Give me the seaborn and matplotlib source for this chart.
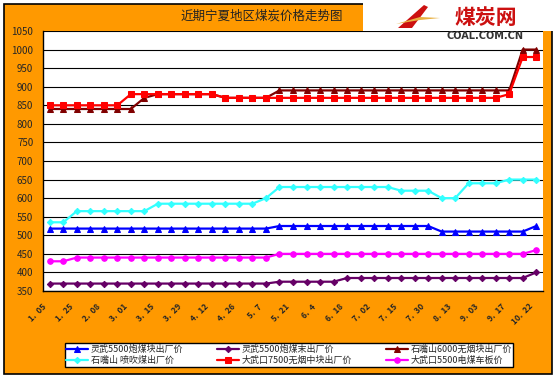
import numpy as np
import matplotlib
matplotlib.use("Agg")
import matplotlib.pyplot as plt
import matplotlib.transforms as mtransforms
from matplotlib.patches import Rectangle, Polygon
import seaborn as sns

# ==========================================
# Data
# ==========================================

title = "近期宁夏地区煤炭价格走势图"

date_labels = ["1.  05", "1.  25", "2.  08", "3.  01", "3.  15", "3.  29", "4.  12",
               "4.  26", "5.  7", "5.  21", "6.  4", "6.  18", "7.  02", "7.  15",
               "7.  30", "8.  13", "9.  03", "9.  17", "10.  22"]

lingwu_kuai = [518, 518, 518, 518, 518, 518, 518, 518, 518, 518, 518, 518, 518,
               518, 518, 518, 518, 525, 525, 525, 525, 525, 525, 525, 525, 525,
               525, 525, 525, 510, 510, 510, 510, 510, 510, 510, 525]

szs_penchui = [535, 535, 565, 565, 565, 565, 565, 565, 585, 585, 585, 585, 585,
               585, 585, 585, 600, 630, 630, 630, 630, 630, 630, 630, 630, 630,
               620, 620, 620, 600, 600, 640, 640, 640, 650, 650, 650]

lingwu_mo = [370, 370, 370, 370, 370, 370, 370, 370, 370, 370, 370, 370, 370,
             370, 370, 370, 370, 375, 375, 375, 375, 375, 385, 385, 385, 385,
             385, 385, 385, 385, 385, 385, 385, 385, 385, 385, 400]

dwk_7500 = [850, 850, 850, 850, 850, 850, 880, 880, 880, 880, 880, 880, 880,
            870, 870, 870, 870, 870, 870, 870, 870, 870, 870, 870, 870, 870,
            870, 870, 870, 870, 870, 870, 870, 870, 880, 980, 980]

szs_6000 = [840, 840, 840, 840, 840, 840, 840, 870, 880, 880, 880, 880, 880,
            870, 870, 870, 870, 890, 890, 890, 890, 890, 890, 890, 890, 890,
            890, 890, 890, 890, 890, 890, 890, 890, 890, 1000, 1000]

dwk_5500 = [430, 430, 440, 440, 440, 440, 440, 440, 440, 440, 440, 440, 440,
            440, 440, 440, 440, 450, 450, 450, 450, 450, 450, 450, 450, 450,
            450, 450, 450, 450, 450, 450, 450, 450, 450, 450, 460]

# legend is filled column by column
series = [
    ("灵武5500炮煤块出厂价", lingwu_kuai, "#0000FF", "^", 4),
    ("石嘴山 喷吹煤出厂价", szs_penchui, "#33FFFF", "D", 3),
    ("灵武5500炮煤末出厂价", lingwu_mo, "#660066", "D", 3),
    ("大武口7500无烟中块出厂价", dwk_7500, "#FF0000", "s", 6),
    ("石嘴山6000无烟块出厂价", szs_6000, "#800000", "^", 5),
    ("大武口5500电煤车板价", dwk_5500, "#FF00FF", "o", 4),
]

# ==========================================
# Figure
# ==========================================

sns.set_style("white")
plt.rcParams["font.family"] = ["Noto Sans CJK SC", "DejaVu Sans"]

W, H = 555, 377
fig = plt.figure(figsize=(W / 100, H / 100), dpi=100)
fig.patch.set_facecolor("white")


def fx(px):
    return px / W


def fy(py):
    return 1 - py / H


# orange background with black frame
fig.add_artist(Rectangle((fx(4), fy(374)), fx(552) - fx(4), fy(4) - fy(374),
                         transform=fig.transFigure, facecolor="#FF9900",
                         edgecolor="black", lw=1.2, zorder=-2))
# white logo box
fig.add_artist(Rectangle((fx(363), fy(31)), fx(555) - fx(363), fy(0) - fy(31),
                         transform=fig.transFigure, facecolor="white",
                         edgecolor="none", zorder=-1))

ax = fig.add_axes([fx(43), fy(291), fx(543) - fx(43), (291 - 31) / H])
ax.set_facecolor("white")

x = np.arange(len(lingwu_kuai))
for name, vals, color, marker, z in series:
    sns.lineplot(x=x, y=vals, ax=ax, color=color, marker=marker,
                 markersize=4 if marker != "D" else 3.2,
                 markeredgecolor=color, lw=1.6, label=name, zorder=z)

ax.set_xlim(-0.5, len(x) - 0.5)
ax.set_ylim(350, 1050)
ax.set_yticks(range(350, 1051, 50))
ax.yaxis.grid(True, color="black", lw=0.8)
ax.xaxis.grid(False)
ax.tick_params(axis="y", length=0, pad=7, labelsize=7)
ax.set_xlabel("")
ax.set_ylabel("")

ax.set_xticks(range(0, len(x), 2))
ax.set_xticklabels(date_labels, rotation=45, ha="right",
                   rotation_mode="anchor", fontsize=6, fontweight="bold")
ax.set_xticks(np.arange(-0.5, len(x), 1), minor=True)
ax.tick_params(axis="x", which="major", length=0, pad=8)
ax.tick_params(axis="x", which="minor", length=3, width=0.8,
               color="black", direction="out")
shift = mtransforms.ScaledTranslation(-0.08, 0, fig.dpi_scale_trans)
for lbl in ax.get_xticklabels():
    lbl.set_transform(lbl.get_transform() + shift)

for side in ["top", "right"]:
    ax.spines[side].set_visible(False)
for side in ["left", "bottom"]:
    ax.spines[side].set_color("black")
    ax.spines[side].set_linewidth(1)

# legend
handles, labels = ax.get_legend_handles_labels()
ax.get_legend().remove()
leg = fig.legend(handles, labels, ncol=3, loc="center",
                 bbox_to_anchor=(fx(60), fy(370), fx(518) - fx(60), (370 - 340) / H),
                 mode="expand", frameon=True, fancybox=False, edgecolor="black",
                 framealpha=1, fontsize=6.5, handlelength=2.4, borderpad=0.2,
                 labelspacing=0.2, columnspacing=1.0, handletextpad=0.3)
leg.get_frame().set_linewidth(1)

# title
fig.text(fx(262), fy(16), title, ha="center", va="center", fontsize=9,
         color="#222222")

# logo
fig.add_artist(Polygon([(fx(398), fy(28)), (fx(424), fy(5)), (fx(428), fy(7)),
                        (fx(412), fy(28))], closed=True, transform=fig.transFigure,
                       facecolor="#CC1010", edgecolor="none", zorder=3))
fig.add_artist(Polygon([(fx(396), fy(24)), (fx(420), fy(17)), (fx(440), fy(18)),
                        (fx(420), fy(20))], closed=True, transform=fig.transFigure,
                       facecolor="#E8B040", edgecolor="none", zorder=3))
fig.text(fx(486), fy(17), "煤炭网", ha="center", va="center", fontsize=15,
         fontweight="bold", color="#CC1010", zorder=4)
fig.text(fx(485), fy(36), "COAL.COM.CN", ha="center", va="center", fontsize=7,
         fontweight="bold", color="#333333", family="DejaVu Sans", zorder=4)

fig.savefig("out.png", dpi=100)
